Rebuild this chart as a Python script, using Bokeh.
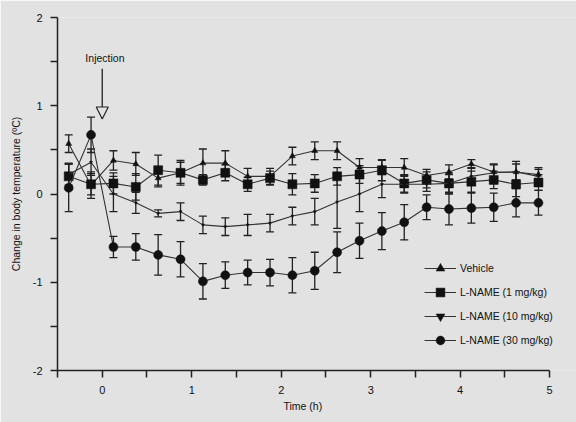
from bokeh.plotting import figure
from bokeh.models import (ColumnDataSource, Whisker, TeeHead, FixedTicker, Arrow, NormalHead,
                          Legend, LegendItem, Label, Range1d, Title)
from bokeh.embed import file_html
from bokeh.resources import INLINE

time = [-0.375, -0.125, 0.125, 0.375, 0.625, 0.875, 1.125, 1.375, 1.625, 1.875, 2.125,
        2.375, 2.625, 2.875, 3.125, 3.375, 3.625, 3.875, 4.125, 4.375, 4.625, 4.875]

vehicle = [0.57, 0.10, 0.38, 0.34, 0.18, 0.24, 0.35, 0.35, 0.20, 0.20, 0.43,
           0.49, 0.49, 0.30, 0.30, 0.30, 0.21, 0.25, 0.34, 0.25, 0.25, 0.22]
vehicle_err = [0.10, 0.15, 0.11, 0.13, 0.10, 0.12, 0.16, 0.14, 0.09, 0.09, 0.10,
               0.10, 0.10, 0.10, 0.08, 0.10, 0.07, 0.08, 0.05, 0.08, 0.09, 0.06]

lname1 = [0.20, 0.11, 0.12, 0.08, 0.27, 0.24, 0.16, 0.24, 0.11, 0.18, 0.11,
          0.12, 0.20, 0.22, 0.27, 0.12, 0.16, 0.12, 0.14, 0.16, 0.11, 0.13]
lname1_err = [0.15, 0.12, 0.12, 0.15, 0.17, 0.14, 0.06, 0.09, 0.08, 0.08, 0.12,
              0.10, 0.10, 0.10, 0.12, 0.10, 0.09, 0.12, 0.12, 0.10, 0.14, 0.09]

lname10 = [0.22, 0.36, 0.00, -0.10, -0.22, -0.20, -0.35, -0.37, -0.35, -0.33, -0.25,
           -0.20, -0.09, 0.00, 0.11, 0.11, 0.11, 0.12, 0.20, 0.24, 0.25, 0.20]
lname10_err = [0.12, 0.15, 0.20, 0.12, 0.04, 0.10, 0.10, 0.10, 0.12, 0.10, 0.10,
               0.15, 0.30, 0.20, 0.15, 0.10, 0.08, 0.10, 0.10, 0.10, 0.12, 0.10]

lname30 = [0.07, 0.67, -0.60, -0.60, -0.69, -0.74, -0.99, -0.92, -0.89, -0.89, -0.92,
           -0.87, -0.66, -0.53, -0.42, -0.32, -0.15, -0.17, -0.16, -0.15, -0.10, -0.10]
lname30_err = [0.27, 0.20, 0.12, 0.15, 0.23, 0.20, 0.20, 0.15, 0.14, 0.15, 0.20,
               0.21, 0.23, 0.20, 0.21, 0.20, 0.14, 0.18, 0.17, 0.16, 0.16, 0.14]

labels = ["Vehicle", "L-NAME (1 mg/kg)", "L-NAME (10 mg/kg)", "L-NAME (30 mg/kg)"]
x_ticks = [0, 1, 2, 3, 4, 5]
y_ticks = [-2, -1, 0, 1, 2]
y_tick_labels = {-2: "-2", -1: "-1", 0: "0", 1: "1", 2: "2"}

BG = "#e2e2e2"
INK = "#222222"
FONT = "Liberation Sans"

p = figure(width=576, height=422, output_backend="svg", toolbar_location=None,
           x_range=Range1d(-0.5, 5.30), y_range=Range1d(-2, 2),
           min_border_left=57, min_border_right=0, min_border_top=17, min_border_bottom=52)
p.background_fill_color = BG
p.border_fill_color = BG
p.outline_line_color = None
p.grid.visible = False

for ax in (p.xaxis[0], p.yaxis[0]):
    ax.axis_line_color = INK
    ax.axis_line_width = 1.5
    ax.major_tick_line_color = INK
    ax.minor_tick_line_color = INK
    ax.major_tick_line_width = 1.5
    ax.minor_tick_line_width = 1.5
    ax.major_tick_in = 0
    ax.major_tick_out = 7
    ax.minor_tick_in = 0
    ax.minor_tick_out = 7
    ax.major_label_text_font = FONT
    ax.major_label_text_font_size = "11px"
    ax.major_label_text_color = "#111111"
    ax.axis_label_text_font = FONT
    ax.axis_label_text_font_size = "10.5px"
    ax.axis_label_text_font_style = "normal"
    ax.axis_label_text_color = "#111111"

p.xaxis.bounds = (-0.5, 5)
p.xaxis.ticker = FixedTicker(ticks=x_ticks, minor_ticks=[-0.5, 0.5, 1.5, 2.5, 3.5, 4.5])
p.yaxis.ticker = FixedTicker(ticks=y_ticks, minor_ticks=[-1.5, -0.5, 0.5, 1.5])
p.yaxis.major_label_overrides = y_tick_labels
p.yaxis.axis_label = "Change in body temperature (ºC)"
p.xaxis.major_label_standoff = 8
p.yaxis.major_label_standoff = 8
p.yaxis.axis_label_standoff = 8

p.add_layout(Title(text="Time (h)", align="left", offset=226, standoff=2,
                   text_font=FONT, text_font_size="10.5px", text_font_style="normal",
                   text_color="#111111"), "below")

series = [
    (vehicle, vehicle_err, "triangle", 6),
    (lname1, lname1_err, "square", 9),
    (lname10, lname10_err, "inverted_triangle", 3),
    (lname30, lname30_err, "circle", 9),
]

items = []
for (vals, errs, marker, size), lab in zip(series, labels):
    src = ColumnDataSource(dict(x=time, y=vals,
                                lo=[v - e for v, e in zip(vals, errs)],
                                hi=[v + e for v, e in zip(vals, errs)]))
    w = Whisker(source=src, base="x", lower="lo", upper="hi",
                line_color=INK, line_width=1.3,
                upper_head=TeeHead(size=8, line_color=INK, line_width=1.3),
                lower_head=TeeHead(size=8, line_color=INK, line_width=1.3))
    p.add_layout(w)
    lr = p.line("x", "y", source=src, line_color="#333333", line_width=1.1)
    sr = p.scatter("x", "y", source=src, marker=marker, size=size,
                   fill_color="#111111", line_color="#111111", line_width=0.5)
    items.append(LegendItem(label=lab, renderers=[lr, sr]))

legend = Legend(items=items, location=(367, 19), orientation="vertical",
                background_fill_alpha=0, border_line_alpha=0,
                label_text_font=FONT, label_text_font_size="10.5px",
                label_text_color="#111111",
                glyph_width=32, glyph_height=22, label_height=22,
                spacing=2, padding=0, margin=0, label_standoff=4)
p.add_layout(legend, "center")

arrow = Arrow(end=NormalHead(size=12, fill_color=BG, line_color=INK, line_width=1.2),
              x_start=0, y_start=1.42, x_end=0, y_end=0.85,
              line_color=INK, line_width=1.3)
p.add_layout(arrow)
p.add_layout(Label(x=0.03, y=1.54, text="Injection", text_align="center",
                   text_baseline="middle", text_font=FONT, text_font_size="10.5px",
                   text_color="#111111"))

open("out.html", "w").write(file_html(p, INLINE))
